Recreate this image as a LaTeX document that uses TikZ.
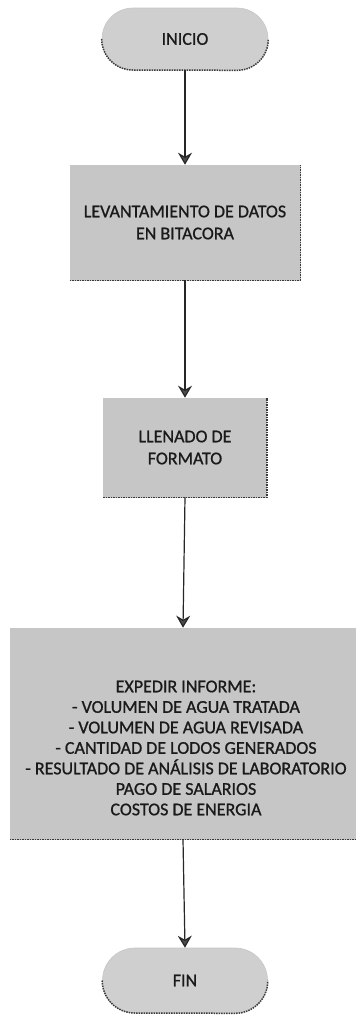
\documentclass[tikz,border=0pt]{standalone}
\usepackage{fontspec}
\setmainfont{Carlito}[FakeBold=0.9]
\usetikzlibrary{arrows.meta}
\definecolor{boxfill}{HTML}{C6C6C6}
\definecolor{pillfill}{HTML}{CFCFCF}
\definecolor{edgec}{HTML}{3A3A3A}
\definecolor{txt}{HTML}{1A1A1A}
\begin{document}
\begin{tikzpicture}[x=1pt,y=-1pt,
  lbl/.style={font=\fontsize{18}{22}\selectfont, text=txt, align=center},
  procbox/.style={rectangle, fill=boxfill, draw=gray!45, line width=0.6pt, inner sep=0pt},
  pillbox/.style={rectangle, fill=pillfill, draw=gray!45, line width=0.6pt, inner sep=0pt},
  shadeedge/.style={draw=edgec, line width=1.5pt, densely dotted},
  arr/.style={draw=black!85, line width=1.2pt, -{Stealth[length=12pt,width=14pt,inset=4pt,fill=gray!60!black]}}
]
\useasboundingbox (0,0) rectangle (356,1015);

% nodes
\node[pillbox, rounded corners=31pt, minimum width=166pt, minimum height=62pt, lbl] (inicio) at (185,39) {INICIO};
\node[procbox, minimum width=230pt, minimum height=115pt, lbl] (b1) at (185,222.5) {LEVANTAMIENTO DE DATOS\\EN BITACORA};
\node[procbox, minimum width=163pt, minimum height=99pt, lbl] (b2) at (185,447.5) {LLENADO DE\\FORMATO};
\node[procbox, minimum width=346pt, minimum height=211pt] (b3) at (183,733.5) {};
\node[lbl, font=\fontsize{18}{20.5}\selectfont] (t3) at (186,748) {EXPEDIR INFORME:\\- VOLUMEN DE AGUA TRATADA\\- VOLUMEN DE AGUA REVISADA\\- CANTIDAD DE LODOS GENERADOS\\- RESULTADO DE ANÁLISIS DE LABORATORIO\\PAGO DE SALARIOS\\COSTOS DE ENERGIA};
\node[pillbox, rounded corners=32.5pt, minimum width=165pt, minimum height=65pt, lbl] (fin) at (185,980.5) {FIN};

% dark dotted lower/right edges
\draw[shadeedge] (inicio.west) arc[start angle=180, end angle=270, radius=31pt] -- ([xshift=-31pt]inicio.south east) arc[start angle=270, end angle=360, radius=31pt];
\draw[shadeedge] (b1.south west) -- (b1.south east) -- (b1.north east);
\draw[shadeedge] (b2.south west) -- (b2.south east) -- (b2.north east);
\draw[shadeedge] (b3.south west) -- (b3.south east);
\draw[shadeedge] (fin.west) arc[start angle=180, end angle=270, radius=32.5pt] -- ([xshift=-32.5pt]fin.south east) arc[start angle=270, end angle=360, radius=32.5pt];

% connectors
\draw[arr] (inicio.south) -- (b1.north);
\draw[arr] (b1.south) -- (b2.north);
\draw[arr] (b2.south) -- (b3.north);
\draw[arr] (b3.south) -- (fin.north);
\end{tikzpicture}
\end{document}
